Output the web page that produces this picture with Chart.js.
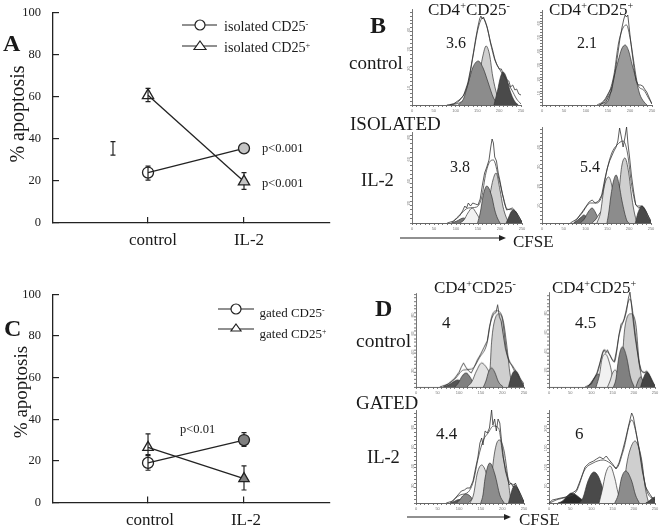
<!DOCTYPE html>
<html>
<head>
<meta charset="utf-8">
<title>apoptosis and CFSE</title>
<script src="https://cdn.jsdelivr.net/npm/chart.js@4/dist/chart.umd.min.js"></script>
<style>
  html, body { margin: 0; background: #fff; }
  #page { position: relative; width: 661px; height: 528px; overflow: hidden; font-family: "Liberation Serif", serif; color: #1a1a1a; }
  canvas { position: absolute; }
  canvas.hist { filter: blur(0.4px); }
  .t { position: absolute; white-space: nowrap; transform: translateY(-50%); line-height: 1; }
  .t sup { font-size: 0.6em; line-height: 0; vertical-align: 0.5em; }
  svg { position: absolute; left: 0; top: 0; }
</style>
</head>
<body>
<div id="page"></div>
<script>
const categories = ['control', 'IL-2'];

// panel A
const isoNeg = [24, 35.5];
const isoNegErr = [[20.4, 27], null];
const isoPos = [60.7, 19.7];
const isoPosErr = [[57.7, 64], [16, 24]];
const isoRefBar = [32.3, 38.7];

// panel C
const gatedNeg = [19, 30];
const gatedNegErr = [[15.5, 22.5], [27, 33.6]];
const gatedPos = [26.5, 11.5];
const gatedPosErr = [[23, 33], [6, 17.6]];

// histograms: [channel, count]
const b1Peaks = [
  [[87,0],[105,1.5],[117,3.5],[130,2.5],[148,0]],
  [[129,0],[142,8],[154,29],[162,48],[170,59],[178,50],[185,29],[195,10],[205,0]],
  [[106,0],[118,6],[129,22],[140,38],[152,44],[163,37],[175,22],[187,7],[200,0]],
  [[188,0],[196,14],[203,28],[209,33],[216,28],[225,14],[235,4],[244,0]]
];
const b1Curve = [[87,0],[110,5],[129,22],[140,49],[152,77],[162,87],[171,80],[180,62],[190,45],[202,35],[215,25],[229,15],[240,6],[250,1]];
const b1Raw = [[80,0],[95,1],[108,5],[118,9],[128,22],[134,35],[140,50],[146,66],[151,78],[155,86],[158,89],[161,86],[164,88],[168,83],[172,78],[176,71],[180,63],[185,55],[190,46],[195,40],[200,36],[205,36],[210,30],[216,26],[222,24],[226,18],[231,20],[236,15],[240,16],[245,11],[250,10]];

const b2Peaks = [
  [[125,0],[140,4],[155,15],[165,21],[172,22],[180,19],[190,11],[205,3],[223,0]],
  [[140,0],[152,6],[164,29],[173,44],[181,56],[189,60],[197,54],[205,40],[212,29],[222,11],[232,3],[239,0]]
];
const b2Curve = [[132,0],[148,8],[163,29],[174,62],[184,77],[192,80],[201,65],[208,45],[218,20],[231,15],[242,7],[250,1]];
const b2Raw = [[130,0],[145,3],[158,14],[165,30],[172,50],[177,66],[182,78],[186,86],[189,90],[192,88],[195,90],[198,78],[202,62],[206,48],[210,34],[214,24],[219,20],[224,20],[229,19],[233,16],[238,13],[243,8],[250,1]];

const b3Peaks = [
  [[90,0],[102,2],[117,5],[130,2],[143,0]],
  [[109,0],[118,3],[127,10],[137,15],[146,10],[156,3],[166,0]],
  [[165,0],[172,12],[178,30],[184,43],[191,50],[200,33],[207,16],[213,7],[220,0]],
  [[149,0],[155,10],[162,28],[170,37],[181,27],[188,13],[194,5],[200,0]],
  [[214,0],[220,6],[225,11],[230,13],[236,11],[243,5],[250,1]]
];
const b3Curve = [[90,0],[113,10],[128,15],[147,16],[158,25],[168,50],[178,62],[185,63],[197,45],[208,25],[216,14],[231,13],[250,1]];
const b3Raw = [[80,0],[95,2],[108,7],[115,12],[120,17],[124,15],[128,20],[133,17],[138,20],[144,19],[150,18],[155,24],[160,38],[165,50],[170,56],[175,63],[179,76],[182,84],[185,80],[188,66],[192,62],[196,50],[200,42],[205,30],[210,20],[215,13],[222,14],[228,15],[235,12],[242,7],[250,1]];

const b4Peaks = [
  [[73,0],[82,3],[90,6],[96,8],[103,6],[112,3],[122,0]],
  [[88,0],[97,4],[106,11],[115,15],[122,11],[130,4],[138,0]],
  [[115,0],[124,4],[131,9],[138,12],[146,9],[153,3],[160,0]],
  [[126,0],[134,10],[143,37],[153,46],[164,30],[172,12],[180,0]],
  [[170,0],[174,12],[178,37],[183,57],[190,65],[199,50],[204,32],[209,17],[216,3],[220,0]],
  [[149,0],[153,10],[158,27],[164,42],[170,48],[177,38],[183,23],[195,2],[200,0]],
  [[214,0],[220,10],[225,15],[229,17],[235,14],[243,6],[250,1]]
];
const b4Curve = [[73,0],[92,10],[111,20],[126,20],[138,28],[149,53],[160,70],[172,78],[186,82],[196,70],[206,37],[218,17],[229,17],[250,1]];
const b4Raw = [[65,0],[80,4],[92,11],[100,16],[108,21],[115,23],[122,20],[130,22],[137,28],[144,44],[150,55],[155,62],[160,67],[165,72],[170,76],[174,82],[178,95],[182,86],[186,76],[190,85],[194,96],[197,80],[201,65],[205,48],[210,32],[215,18],[222,15],[230,17],[238,12],[245,6],[250,2]];

const d1Peaks = [
  [[63,0],[75,2],[86,5],[96,7],[107,5],[118,2],[129,0]],
  [[90,0],[98,4],[107,11],[116,14],[125,10],[134,3],[144,0]],
  [[118,0],[129,5],[140,16],[152,24],[164,19],[175,10],[187,0]],
  [[167,0],[171,15],[175,45],[183,68],[193,73],[202,66],[210,42],[218,12],[225,0]],
  [[156,0],[162,6],[168,15],[175,19],[182,15],[191,5],[202,0]],
  [[214,0],[219,8],[224,14],[229,16],[236,13],[243,6],[250,1]]
];
const d1Curve = [[63,0],[90,8],[110,17],[129,18],[148,30],[164,43],[175,70],[187,76],[198,72],[210,35],[221,22],[250,1]];
const d1Raw = [[55,0],[75,3],[90,9],[100,15],[105,20],[110,24],[115,20],[122,16],[128,14],[135,20],[142,27],[150,33],[158,40],[165,46],[170,60],[175,68],[180,73],[185,74],[189,82],[193,70],[197,66],[202,52],[207,38],[212,30],[217,24],[222,22],[228,18],[235,14],[242,8],[250,3]];

const d2Peaks = [
  [[91,0],[99,4],[108,10],[116,13],[124,9],[133,3],[142,0]],
  [[111,0],[119,12],[125,28],[133,33],[144,22],[154,2],[158,0]],
  [[138,0],[144,6],[150,14],[156,17],[162,13],[168,5],[173,0]],
  [[166,0],[172,20],[177,52],[183,68],[193,73],[205,62],[212,28],[219,8],[226,0]],
  [[152,0],[158,8],[164,28],[173,40],[183,30],[192,10],[201,0]],
  [[205,0],[210,6],[216,10],[222,6],[232,0]],
  [[216,0],[222,8],[227,13],[232,15],[238,11],[245,4],[250,1]]
];
const d2Curve = [[91,0],[115,15],[130,37],[142,33],[154,25],[166,53],[177,68],[191,88],[205,48],[216,17],[232,14],[250,1]];
const d2Raw = [[85,0],[100,3],[113,14],[120,24],[126,33],[130,37],[134,34],[138,37],[142,33],[148,28],[154,25],[160,38],[165,52],[170,63],[174,64],[178,68],[183,76],[187,88],[191,95],[194,84],[198,68],[203,50],[208,36],[213,24],[218,16],[224,14],[230,16],[236,12],[243,6],[250,1]];

const d3Peaks = [
  [[79,0],[88,1.5],[95,3],[102,3.5],[110,3],[120,1],[129,0]],
  [[94,0],[101,3],[108,7],[116,9],[125,7],[134,2],[144,0]],
  [[121,0],[128,3],[134,6],[140,7],[146,5],[151,2],[156,0]],
  [[125,0],[133,8],[142,30],[152,38],[164,28],[172,12],[180,3],[186,0]],
  [[167,0],[172,10],[176,30],[181,48],[187,60],[193,63],[204,52],[212,28],[219,5],[224,0]],
  [[150,0],[155,8],[160,25],[171,40],[183,28],[194,8],[204,0]],
  [[214,0],[219,8],[224,15],[229,17],[236,14],[243,6],[250,1]]
];
const d3Curve = [[79,0],[102,8],[121,11],[133,22],[144,45],[156,63],[167,70],[179,77],[191,75],[202,45],[218,20],[229,18],[250,1]];
const d3Raw = [[70,0],[85,2],[97,8],[105,12],[112,13],[118,15],[125,15],[132,22],[138,35],[143,45],[148,60],[152,65],[155,58],[160,72],[165,70],[170,75],[175,93],[178,78],[182,84],[186,72],[190,84],[194,80],[198,62],[202,46],[207,32],[212,24],[216,18],[220,20],[225,16],[230,20],[236,14],[243,8],[250,1]];

const d4Peaks = [
  [[21,0],[32,2],[43,7],[53,10],[64,8],[79,3],[96,0]],
  [[72,0],[80,5],[92,22],[106,31],[116,27],[124,18],[133,6],[141,0]],
  [[118,0],[125,12],[134,30],[144,37],[155,25],[163,10],[172,0]],
  [[170,0],[177,18],[183,38],[191,53],[203,62],[212,55],[219,42],[226,18],[234,2],[238,0]],
  [[155,0],[163,8],[171,25],[181,32],[195,22],[204,8],[213,0]],
  [[228,0],[236,2],[244,5],[250,6]]
];
const d4Curve = [[2,0],[17,3],[41,6],[65,12],[84,33],[104,40],[128,43],[144,40],[159,35],[175,52],[195,83],[211,58],[230,13],[250,3]];
const d4Raw = [[0,0],[8,3],[18,4],[28,5],[40,6],[52,9],[65,13],[75,24],[85,36],[95,40],[105,42],[112,44],[120,46],[128,44],[135,47],[142,43],[150,39],[158,34],[165,40],[172,50],[180,63],[187,76],[192,85],[195,90],[199,86],[205,72],[212,55],[220,32],[228,16],[236,10],[244,5],[250,3]];

// y tick labels of the small histograms
const b1YTicks = ['10', '20', '30', '40'];
const b2YTicks = ['10', '20', '30', '40', '50', '60'];
const b3YTicks = ['20', '40', '60', '80'];
const b4YTicks = ['10', '20', '30', '40'];
const d1YTicks = ['20', '40', '60', '80'];
const d2YTicks = ['20', '40', '60', '80'];
const d3YTicks = ['20', '40', '60', '80'];
const d4YTicks = ['50', '100', '150', '200'];

const SERIF = '"Liberation Serif", serif';
const page = document.getElementById('page');

function addCanvas(left, top, w, h, cls) {
  const c = document.createElement('canvas');
  c.width = w;
  c.height = h;
  c.style.left = left + 'px';
  c.style.top = top + 'px';
  c.style.width = w + 'px';
  c.style.height = h + 'px';
  if (cls) c.className = cls;
  page.appendChild(c);
  return c;
}

function label(html, x, y, size, extra) {
  const d = document.createElement('div');
  d.className = 't';
  d.innerHTML = html;
  d.style.left = x + 'px';
  d.style.top = y + 'px';
  d.style.fontSize = size + 'px';
  if (extra) d.style.cssText += extra;
  page.appendChild(d);
}

// error bars go under the markers, through the library's scales
const errorBars = {
  id: 'errorBars',
  beforeDatasetsDraw(chart) {
    const { ctx, scales } = chart;
    ctx.save();
    ctx.strokeStyle = '#222';
    ctx.lineWidth = 1.2;
    chart.data.datasets.forEach(ds => {
      (ds.err || []).forEach((e, i) => {
        if (!e) return;
        const x = scales.x.getPixelForValue(ds.data[i].x);
        const lo = scales.y.getPixelForValue(e[0]);
        const hi = scales.y.getPixelForValue(e[1]);
        ctx.beginPath();
        ctx.moveTo(x, lo); ctx.lineTo(x, hi);
        ctx.moveTo(x - 2.5, lo); ctx.lineTo(x + 2.5, lo);
        ctx.moveTo(x - 2.5, hi); ctx.lineTo(x + 2.5, hi);
        ctx.stroke();
      });
    });
    ctx.restore();
  }
};

function toPoints(values) {
  return values.map((v, i) => ({ x: i, y: v }));
}

function lineSeries(values, errs, style, fillColor, radius) {
  return {
    data: toPoints(values),
    err: errs,
    borderColor: '#222',
    borderWidth: 1.3,
    pointStyle: style,
    pointRadius: radius,
    pointBorderColor: '#222',
    pointBorderWidth: 1.3,
    pointBackgroundColor: ['rgba(0,0,0,0)', fillColor],
    tension: 0
  };
}

// the canvas starts well above the axis top and runs past its right end,
// the layout would otherwise shrink the area for the tick labels
function apoptosisChart(chartTop, chartBottom, xHeight, labelShift, labelPad, datasets) {
  const top = Math.round(chartTop) - 40;
  const c = addCanvas(0, top, 360, chartBottom + xHeight - top);
  new Chart(c, {
    type: 'line',
    data: { datasets },
    plugins: [errorBars],
    options: {
      responsive: false,
      animation: false,
      layout: { padding: { top: chartTop - top, right: 30 } },
      plugins: { legend: { display: false }, tooltip: { enabled: false } },
      scales: {
        x: {
          type: 'linear',
          min: -0.99,
          max: 1.896,
          afterFit: s => { s.height = xHeight; },
          afterBuildTicks: s => { s.ticks = categories.map((n, i) => ({ value: i })); },
          grid: { drawOnChartArea: false, tickLength: -6, color: '#222', lineWidth: 1.2 },
          border: { color: '#222', width: 1.3 },
          ticks: {
            callback: v => categories[v],
            color: '#1a1a1a',
            font: { family: SERIF, size: 17 },
            padding: labelPad,
            labelOffset: labelShift,
            maxRotation: 0,
            autoSkip: false
          }
        },
        y: {
          min: 0,
          max: 100,
          afterFit: s => { s.width = 53; },
          grid: { drawOnChartArea: false, tickLength: -6, color: '#222', lineWidth: 1.2 },
          border: { color: '#222', width: 1.3 },
          ticks: {
            stepSize: 20,
            color: '#1a1a1a',
            font: { family: SERIF, size: 12.5 },
            padding: 18
          }
        }
      }
    }
  });
}

apoptosisChart(12.7, 223, 39, 5, 13, [
  lineSeries(isoNeg, isoNegErr, 'circle', '#c4c4c4', 5.5),
  lineSeries(isoPos, isoPosErr, 'triangle', '#c4c4c4', 6.5),
  {
    data: [{ x: -0.365, y: (isoRefBar[0] + isoRefBar[1]) / 2 }],
    err: [isoRefBar],
    pointRadius: 0,
    showLine: false
  }
]);

apoptosisChart(294.3, 502.7, 25.3, 2, 14, [
  lineSeries(gatedNeg, gatedNegErr, 'circle', '#808080', 5.5),
  lineSeries(gatedPos, gatedPosErr, 'triangle', '#808080', 6)
]);

function hist(box, peaks, colors, curve, raw, yTicks) {
  const pad = 12;
  const c = addCanvas(box.axisX - 14, box.top - pad, box.x250 - box.axisX + 14 + pad, box.base - box.top + pad + 10, 'hist');
  const toXY = pts => pts.map(p => ({ x: p[0], y: p[1] }));
  const datasets = peaks.map((p, i) => ({
    data: toXY(p),
    fill: 'origin',
    backgroundColor: colors[i],
    borderColor: '#333',
    borderWidth: 0.7,
    pointRadius: 0,
    cubicInterpolationMode: 'monotone',
    order: 20 - i
  }));
  datasets.push({ data: toXY(curve), borderColor: '#444', borderWidth: 0.8, pointRadius: 0, cubicInterpolationMode: 'monotone', order: 2 });
  datasets.push({ data: toXY(raw), borderColor: '#333', borderWidth: 0.8, pointRadius: 0, tension: 0, order: 1 });
  new Chart(c, {
    type: 'line',
    data: { datasets },
    options: {
      responsive: false,
      animation: false,
      layout: { padding: { top: pad, right: pad } },
      plugins: { legend: { display: false }, tooltip: { enabled: false } },
      scales: {
        x: {
          type: 'linear',
          min: 0,
          max: 250,
          afterFit: s => { s.height = 10; },
          grid: { drawOnChartArea: false, tickLength: 2, color: '#555', lineWidth: 0.8 },
          border: { color: '#555', width: 0.9 },
          ticks: {
            stepSize: 10,
            autoSkip: false,
            maxRotation: 0,
            padding: 1,
            color: '#777',
            font: { family: '"Liberation Sans"', size: 4 },
            callback: v => (v % 50 === 0 ? String(v) : '')
          }
        },
        y: {
          min: 0,
          max: box.base - box.top,
          afterFit: s => { s.width = 14; },
          grid: { drawOnChartArea: false, tickLength: 2, color: '#555', lineWidth: 0.8 },
          border: { color: '#666', width: 0.9, dash: [1, 1] },
          ticks: {
            stepSize: box.step / 5,
            includeBounds: false,
            autoSkip: false,
            minRotation: 90,
            maxRotation: 90,
            padding: 1,
            color: '#777',
            font: { family: '"Liberation Sans"', size: 4 },
            callback: (v, i) => (i > 0 && i % 5 === 0 ? yTicks[i / 5 - 1] || '' : '')
          }
        }
      }
    }
  });
}

const DARK = '#4a4a4a', MID = '#8c8c8c', LIGHT = '#cfcfcf', PALE = '#e2e2e2', WHITE = '#f1f1f1';

hist({ axisX: 412, x250: 521, top: 9, base: 105, step: 19.3 }, b1Peaks, [WHITE, LIGHT, MID, DARK], b1Curve, b1Raw, b1YTicks);
hist({ axisX: 541.7, x250: 651.7, top: 10, base: 105, step: 14 }, b2Peaks, [LIGHT, '#9a9a9a'], b2Curve, b2Raw, b2YTicks);
hist({ axisX: 412, x250: 522, top: 132, base: 223, step: 22 }, b3Peaks, ['#777', WHITE, LIGHT, MID, DARK], b3Curve, b3Raw, b3YTicks);
hist({ axisX: 541.7, x250: 651, top: 127, base: 223, step: 19.5 }, b4Peaks, ['#666', MID, WHITE, PALE, LIGHT, MID, DARK], b4Curve, b4Raw, b4YTicks);
hist({ axisX: 416, x250: 524, top: 293, base: 386.7, step: 18.5 }, d1Peaks, ['#555', '#808080', PALE, LIGHT, '#999', DARK], d1Curve, d1Raw, d1YTicks);
hist({ axisX: 549, x250: 655, top: 292, base: 386.7, step: 19 }, d2Peaks, ['#808080', WHITE, PALE, LIGHT, '#808080', '#999', '#444'], d2Curve, d2Raw, d2YTicks);
hist({ axisX: 416, x250: 524, top: 410, base: 503, step: 19.5 }, d3Peaks, ['#555', '#888', WHITE, PALE, LIGHT, MID, DARK], d3Curve, d3Raw, d3YTicks);
hist({ axisX: 549, x250: 655, top: 410, base: 503, step: 19.5 }, d4Peaks, ['#2a2a2a', DARK, WHITE, LIGHT, MID, DARK], d4Curve, d4Raw, d4YTicks);

// legend keys and CFSE arrows
const ink = 'stroke="#222" stroke-width="1.2"';
page.insertAdjacentHTML('beforeend', `<svg width="661" height="528">
  <line x1="182" y1="25" x2="217" y2="25" ${ink}/><circle cx="200" cy="25" r="5" fill="#fff" ${ink}/>
  <line x1="182" y1="46" x2="217" y2="46" ${ink}/><polygon points="200,41 206,49.5 194,49.5" fill="#fff" ${ink}/>
  <line x1="218" y1="309" x2="254" y2="309" ${ink}/><circle cx="236" cy="309" r="5" fill="#fff" ${ink}/>
  <line x1="218" y1="329" x2="254" y2="329" ${ink}/><polygon points="236,324 241,331 231,331" fill="#fff" ${ink}/>
  <line x1="400" y1="238" x2="502" y2="238" ${ink}/><polygon points="506,238 499,235 499,241" fill="#222"/>
  <line x1="407" y1="517" x2="507" y2="517" ${ink}/><polygon points="511,517 504,514 504,520" fill="#222"/>
</svg>`);

label('isolated CD25<sup>-</sup>', 224, 26, 14.2);
label('isolated CD25<sup>+</sup>', 224, 47, 14.2);
label('gated CD25<sup>-</sup>', 259.5, 312, 13);
label('gated CD25<sup>+</sup>', 259.5, 333, 13);

label('p&lt;0.001', 262, 148, 12.5);
label('p&lt;0.001', 262, 183, 12.5);
label('p&lt;0.01', 180, 429, 12.5);

label('% apoptosis', 17, 114, 20, 'transform:translate(-50%,-50%) rotate(-90deg);');
label('% apoptosis', 20, 392, 19, 'transform:translate(-50%,-50%) rotate(-90deg);');

const BOLD = 'font-weight:bold;';
label('A', 3, 43, 24, BOLD);
label('C', 4, 328, 24, BOLD);
label('B', 370, 25, 24, BOLD);
label('D', 375, 308, 24, BOLD);

label('CD4<sup>+</sup>CD25<sup>-</sup>', 428, 9, 17);
label('CD4<sup>+</sup>CD25<sup>+</sup>', 549, 9, 17);
label('control', 349, 62, 19);
label('ISOLATED', 350, 123, 19);
label('IL-2', 361, 180, 18.5);
label('3.6', 446, 43, 16);
label('2.1', 577, 43, 16);
label('3.8', 450, 167, 16);
label('5.4', 580, 167, 16);
label('CFSE', 513, 241, 17);

label('CD4<sup>+</sup>CD25<sup>-</sup>', 434, 287, 17);
label('CD4<sup>+</sup>CD25<sup>+</sup>', 552, 287, 17);
label('control', 356, 341, 19.5);
label('GATED', 356, 402, 19);
label('IL-2', 367, 457, 18.5);
label('4', 442, 322, 17);
label('4.5', 575, 322, 17);
label('4.4', 436, 433, 17);
label('6', 575, 433, 17);
label('CFSE', 519, 519, 17);
</script>
</body>
</html>
